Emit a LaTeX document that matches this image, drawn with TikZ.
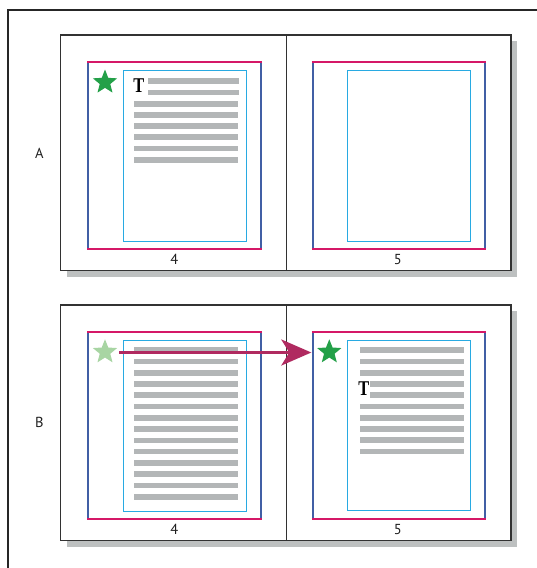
\documentclass[tikz,border=0pt]{standalone}
\usepackage{fontspec}
\setmainfont{PT Sans}
\newfontfamily\tfont{Liberation Serif}
\usetikzlibrary{shapes.geometric,arrows.meta}
\definecolor{magline}{RGB}{213,24,103}
\definecolor{blueline}{RGB}{65,95,165}
\definecolor{cyanline}{RGB}{40,170,226}
\definecolor{barcol}{RGB}{179,182,183}
\definecolor{shadowcol}{RGB}{189,192,192}
\definecolor{arrowcol}{RGB}{176,42,96}
\definecolor{stargreen}{RGB}{35,160,72}
\definecolor{starlight}{RGB}{168,213,163}
\definecolor{framecol}{RGB}{50,50,50}
\begin{document}
\begin{tikzpicture}[x=1pt,y=-1pt,
  spread/.style={fill=white,draw=framecol,line width=1.3pt},
  shadowbox/.style={fill=shadowcol,draw=none},
  sideline/.style={draw=blueline,line width=1.8pt},
  topline/.style={draw=magline,line width=1.8pt},
  textframe/.style={draw=cyanline,line width=1pt},
  bar/.style={fill=barcol,draw=none},
  starmark/.style={star,star points=5,star point ratio=2.3,minimum size=25.5pt,inner sep=0pt,draw=none},
  lbl/.style={font=\fontsize{14.5}{17}\selectfont,text=black!88,inner sep=0pt},
  bigT/.style={font=\tfont\bfseries\fontsize{21}{21}\selectfont,xscale=0.78,inner sep=0pt,anchor=base west},
  movearrow/.style={draw=arrowcol,line width=3pt,-{Stealth[length=30pt,width=26pt,inset=8pt]}}
]
\useasboundingbox (0,0) rectangle (536,568);
% outer frame
\draw[line width=2pt,color=black!85] (7.8,570) -- (7.8,9.8) -- (538,9.8);

% ---------- spread A ----------
\fill[shadowbox] (66.7,41) rectangle (517,276.7);
\draw[spread] (60.7,35) rectangle (511,270.7);
\draw[framecol,line width=1.3pt] (286.7,35) -- (286.7,270.7);
% left page
\draw[sideline] (88.3,61.7) -- (88.3,248.7) (261.3,61.7) -- (261.3,248.7);
\draw[topline] (87.4,61.7) -- (262.2,61.7) (87.4,248.7) -- (262.2,248.7);
\draw[textframe] (123.3,70.3) rectangle (246,241.3);
\foreach \k in {0,1} {\fill[bar] (148,81.3+11.2*\k-2.85) rectangle (239,81.3+11.2*\k+2.85);}
\foreach \k in {2,...,7} {\fill[bar] (134,81.3+11.2*\k-2.85) rectangle (238,81.3+11.2*\k+2.85);}
\node[bigT] (tA) at (133.3,92.3) {T};
\node[starmark,fill=stargreen] (starA) at (105,82.3) {};
\node[lbl] (numA4) at (174.3,259.5) {4};
% right page
\draw[sideline] (312.7,61.7) -- (312.7,248.7) (485.3,61.7) -- (485.3,248.7);
\draw[topline] (311.8,61.7) -- (486.2,61.7) (311.8,248.7) -- (486.2,248.7);
\draw[textframe] (347.3,70.3) rectangle (470.3,241.3);
\node[lbl] (numA5) at (397.7,259.5) {5};
\node[lbl] (labA) at (39.3,153) {A};

% ---------- spread B ----------
\fill[shadowbox] (66.7,311) rectangle (517,546.7);
\draw[spread] (60.7,305) rectangle (511,540.7);
\draw[framecol,line width=1.3pt] (286.7,305) -- (286.7,540.7);
% left page
\draw[sideline] (88.3,331.7) -- (88.3,518.7) (261.3,331.7) -- (261.3,518.7);
\draw[topline] (87.4,331.7) -- (262.2,331.7) (87.4,518.7) -- (262.2,518.7);
\draw[textframe] (123.3,340) rectangle (246,511);
\foreach \k in {0,...,13} {\fill[bar] (134,350.2+11.27*\k-2.85) rectangle (238,350.2+11.27*\k+2.85);}
\node[starmark,fill=starlight] (starBL) at (105,352) {};
\node[lbl] (numB4) at (174.3,529.5) {4};
% right page
\draw[sideline] (312.7,331.7) -- (312.7,518.7) (485.3,331.7) -- (485.3,518.7);
\draw[topline] (311.8,331.7) -- (486.2,331.7) (311.8,518.7) -- (486.2,518.7);
\draw[textframe] (347.3,340) rectangle (470.3,510.7);
\foreach \k in {0,1,2,5,6,7,8,9} {\fill[bar] (360,350.2+11.25*\k-2.85) rectangle (464,350.2+11.25*\k+2.85);}
\foreach \k in {3,4} {\fill[bar] (370.3,350.2+11.25*\k-2.85) rectangle (464,350.2+11.25*\k+2.85);}
\node[bigT] (tB) at (358.3,395) {T};
\node[starmark,fill=stargreen] (starBR) at (329.3,352) {};
\node[lbl] (numB5) at (397.7,529.5) {5};
\node[lbl] (labB) at (39.3,422) {B};

% move arrow
\draw[movearrow] ([xshift=14pt,yshift=-0.5pt]starBL.center) -- ([xshift=-18pt,yshift=-0.5pt]starBR.center);
\end{tikzpicture}
\end{document}
